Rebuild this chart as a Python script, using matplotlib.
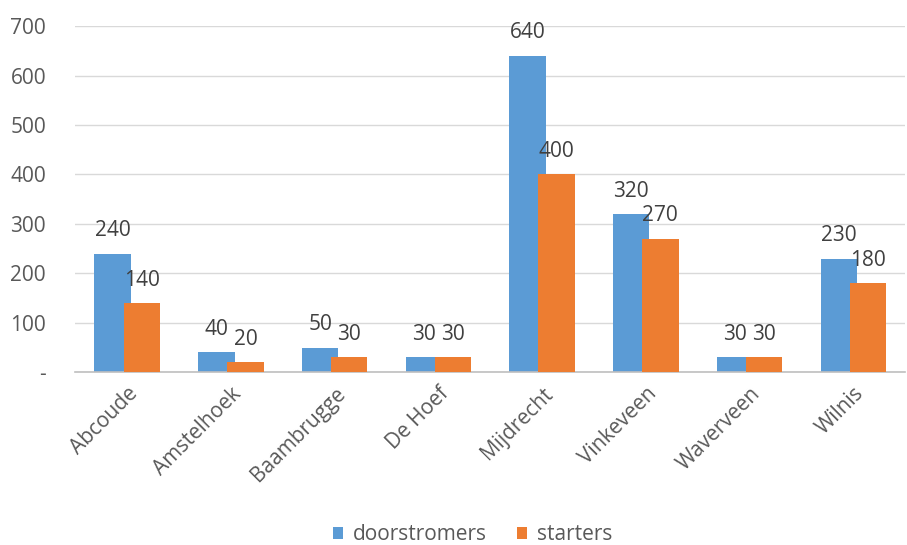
import matplotlib
matplotlib.use("Agg")
import matplotlib.pyplot as plt
import numpy as np

# data
places = ["Abcoude", "Amstelhoek", "Baambrugge", "De Hoef",
          "Mijdrecht", "Vinkeveen", "Waverveen", "Wilnis"]
doorstromers = [240, 40, 50, 30, 640, 320, 30, 230]
starters = [140, 20, 30, 30, 400, 270, 30, 180]
yticks = [0, 100, 200, 300, 400, 500, 600, 700]
ytick_labels = ["-", "100", "200", "300", "400", "500", "600", "700"]

plt.rcParams['font.family'] = ['Open Sans', 'DejaVu Sans']
grey = "#595959"
fs = 15

fig = plt.figure(figsize=(9.07, 5.45), dpi=100)
ax = fig.add_axes([0.083, 0.317, 0.915, 0.635])

x = np.arange(len(places))
w = 0.35
off = 0.14
b1 = ax.bar(x - off, doorstromers, w, color="#5B9BD5", label="doorstromers", zorder=2)
b2 = ax.bar(x + off, starters, w, color="#ED7D31", label="starters", zorder=3)

for bars in (b1, b2):
    for r in bars:
        h = r.get_height()
        ax.annotate(f"{h:g}", (r.get_x() + r.get_width() / 2, h),
                    xytext=(0, 9), textcoords="offset points",
                    ha="center", va="bottom", fontsize=fs, color="#404040")

ax.set_xlim(-0.5, len(places) - 0.5)
ax.set_ylim(0, 700)
ax.set_yticks(yticks)
ax.set_yticklabels(ytick_labels, fontsize=fs, color=grey)
ax.set_xticks(x)
ax.set_xticklabels(places, rotation=45, ha="right", rotation_mode="anchor",
                   fontsize=fs, color=grey)
ax.tick_params(axis="y", length=0, pad=21)
ax.tick_params(axis="x", length=0, pad=8)

ax.grid(axis="y", color="#d9d9d9", linewidth=1, zorder=0)
for s in ["top", "right", "left"]:
    ax.spines[s].set_visible(False)
ax.spines["bottom"].set_color("#bfbfbf")
ax.spines["bottom"].set_linewidth(1.2)

fig.legend(handles=[b1, b2], loc="lower center", bbox_to_anchor=(0.521, -0.035),
           ncol=2, frameon=False, fontsize=fs, labelcolor=grey,
           handlelength=0.5, handleheight=0.5, handletextpad=0.45, columnspacing=1.45)

fig.savefig("out.png", dpi=100)
